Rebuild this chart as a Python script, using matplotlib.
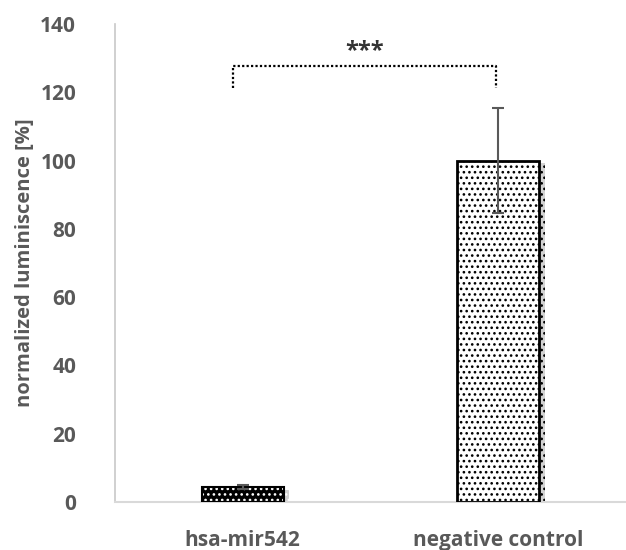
import matplotlib
matplotlib.use("Agg")
import matplotlib.pyplot as plt
import matplotlib.patheffects as pe

categories = ["hsa-mir542", "negative control"]
values = [4.4, 100.0]
errors = [0.6, 15.4]
yticks = [0, 20, 40, 60, 80, 100, 120, 140]
ylabel = "normalized luminiscence [%]"
sig_label = "***"
bracket_y = 127.7
bracket_drop = 121.3

plt.rcParams['font.family'] = ['Open Sans', 'DejaVu Sans']
plt.rcParams['hatch.linewidth'] = 1.1

fig = plt.figure(figsize=(6.26, 5.5), dpi=100)
ax = fig.add_axes([0.1837, 0.0873, 0.8163, 0.8691])

x = list(range(len(categories)))
w = 0.32
shadow = [pe.SimplePatchShadow(offset=(4, -2), shadow_rgbFace=(0.5, 0.5, 0.5), alpha=0.35), pe.Normal()]

# bar 1: black with white dots
plt.rcParams['hatch.color'] = 'white'
b1 = ax.bar(x[0], values[0], width=w, color='black', edgecolor='white', hatch='...', linewidth=0, zorder=2)
for p in b1:
    p.set_path_effects(shadow)
ax.bar(x[0], values[0], width=w, fill=False, edgecolor='black', linewidth=1.5, zorder=3)

# bar 2: white with black dots
b2 = ax.bar(x[1], values[1], width=w, color='white', edgecolor='black', hatch='...', linewidth=0, zorder=2)
for p in b2:
    p.set_path_effects(shadow)
ax.bar(x[1], values[1], width=w, fill=False, edgecolor='black', linewidth=2, zorder=3)

ax.errorbar(x, values, yerr=errors, fmt='none', ecolor='#595959', elinewidth=1.5, capsize=4.5, capthick=1.5, zorder=4)

# significance bracket
xl, xr = x[0] - 0.04, x[1] - 0.01
ax.plot([xl, xl, xr, xr], [bracket_drop, bracket_y, bracket_y, bracket_drop], linestyle=(0, (1, 1)), color='black', lw=1.6, zorder=5)
ax.text((xl + xr) / 2, bracket_y + 0.8, sig_label, ha='center', va='bottom', fontsize=17, color='#333333', fontweight='bold')

ax.set_xlim(-0.5, 1.5)
ax.set_ylim(0, 140)
ax.set_yticks(yticks)
ax.set_xticks(x)
ax.set_xticklabels(categories)
ax.tick_params(length=0, labelsize=15, colors='#595959')
ax.tick_params(axis='y', pad=28)
ax.tick_params(axis='x', pad=20)
for lab in ax.get_xticklabels() + ax.get_yticklabels():
    lab.set_fontweight('bold')
ax.set_ylabel(ylabel, fontsize=14.5, fontweight='bold', color='#595959', labelpad=4)
for s in ['top', 'right']:
    ax.spines[s].set_visible(False)
ax.spines['left'].set_color('#c8c8c8')
ax.spines['bottom'].set_color('#d9d9d9')
ax.spines['left'].set_linewidth(1.2)
ax.spines['bottom'].set_linewidth(1.5)

fig.savefig("out.png", dpi=100)
